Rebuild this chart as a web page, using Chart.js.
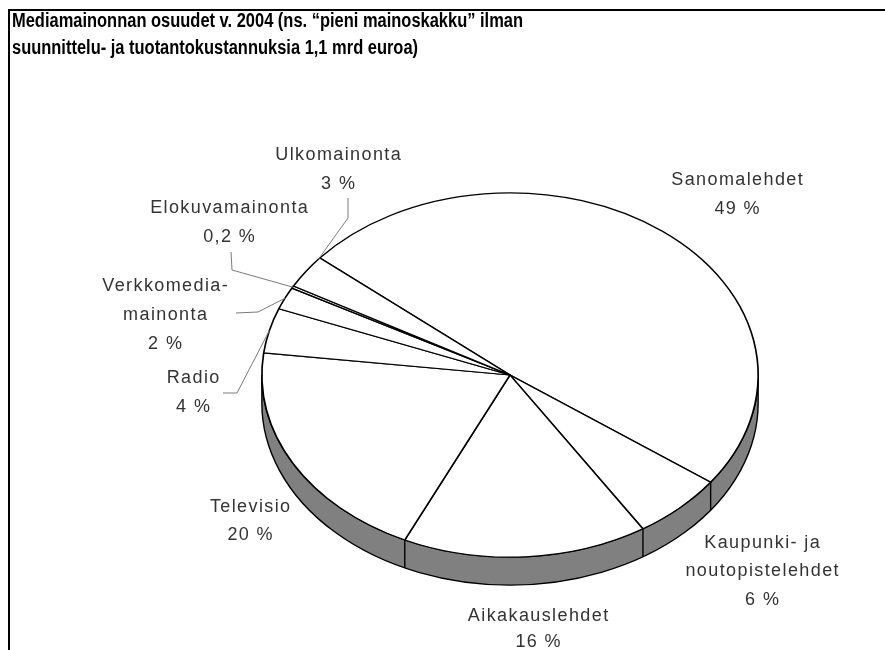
<!DOCTYPE html>
<html>
<head>
<meta charset="utf-8">
<script src="https://cdn.jsdelivr.net/npm/chart.js@4/dist/chart.umd.min.js"></script>
<style>
html,body{margin:0;padding:0;background:#fff}
canvas{display:block}
</style>
</head>
<body>
<canvas id="c" width="885" height="650"></canvas>
<script>
// ---- data ----
const titleLines = [
  'Mediamainonnan osuudet v. 2004 (ns. \u201Cpieni mainoskakku\u201D ilman',
  'suunnittelu- ja tuotantokustannuksia 1,1 mrd euroa)'
];
const categories = [
  ['Sanomalehdet'],
  ['Kaupunki- ja', 'noutopistelehdet'],
  ['Aikakauslehdet'],
  ['Televisio'],
  ['Radio'],
  ['Verkkomedia-', 'mainonta'],
  ['Elokuvamainonta'],
  ['Ulkomainonta']
];
const shares = [49, 6, 16, 20, 4, 2, 0.2, 3];

// ---- layout (annotation placement only) ----
const labelAnchors = [
  [737, 180], [762, 543], [538, 616], [250, 507],
  [193, 378], [165, 286], [229, 208], [338, 155]
];
const labelLineGap = [29, 28.5, 26, 28, 29, 29, 29, 29];
const leaders = [
  { idx: 7, f: 0.95, pts: [[348, 198], [348, 218]] },
  { idx: 6, f: 0.5, pts: [[231, 252], [232, 270]] },
  { idx: 5, f: 0.5, pts: [[236, 313], [258, 312]] },
  { idx: 4, f: 0.5, pts: [[223, 393], [237, 393]] }
];
const TILT = 0.734;   // vertical squash of the pie
const DEPTH = 28;     // thickness of the 3D side
const TITLE_CONDENSE = 0.823;

const pctText = v => String(v).replace('.', ',') + ' %';

const pie3d = {
  id: 'pie3d',
  beforeDraw(chart) {
    const ctx = chart.ctx;
    ctx.save();
    ctx.fillStyle = '#fff';
    ctx.fillRect(0, 0, chart.width, chart.height);
    ctx.strokeStyle = '#000';
    ctx.lineWidth = 2;
    ctx.beginPath();
    ctx.moveTo(9, chart.height);
    ctx.lineTo(9, 10);
    ctx.lineTo(chart.width, 10);
    ctx.stroke();
    ctx.fillStyle = '#000';
    ctx.font = 'bold 20px "Liberation Sans", Arial, sans-serif';
    ctx.textAlign = 'left';
    ctx.textBaseline = 'alphabetic';
    ctx.translate(12, 0);
    ctx.scale(TITLE_CONDENSE, 1);
    titleLines.forEach((t, i) => ctx.fillText(t, 0, 27 + i * 27));
    ctx.restore();
  },
  beforeDatasetsDraw(chart) {
    const ctx = chart.ctx;
    const arcs = chart.getDatasetMeta(0).data;
    const a0 = arcs[0];
    const cx = a0.x, cy = a0.y, R = a0.outerRadius, ry = R * TILT;
    ctx.save();
    ctx.beginPath();
    ctx.ellipse(cx, cy, R, ry, 0, 0, Math.PI, false);
    ctx.lineTo(cx - R, cy + DEPTH);
    ctx.ellipse(cx, cy + DEPTH, R, ry, 0, Math.PI, 0, true);
    ctx.closePath();
    ctx.fillStyle = '#808080';
    ctx.fill();
    ctx.strokeStyle = '#000';
    ctx.lineWidth = 1.4;
    ctx.stroke();
    arcs.forEach(a => {
      const t = ((a.startAngle % (2 * Math.PI)) + 2 * Math.PI) % (2 * Math.PI);
      if (t > 0.03 && t < Math.PI - 0.03) {
        const px = cx + R * Math.cos(t), py = cy + ry * Math.sin(t);
        ctx.beginPath();
        ctx.moveTo(px, py);
        ctx.lineTo(px, py + DEPTH);
        ctx.stroke();
      }
    });
    ctx.restore();
    ctx.save();
    ctx.translate(cx, cy);
    ctx.scale(1, TILT);
    ctx.translate(-cx, -cy);
  },
  afterDatasetsDraw(chart) {
    const ctx = chart.ctx;
    ctx.restore();
    const arcs = chart.getDatasetMeta(0).data;
    const a0 = arcs[0];
    const cx = a0.x, cy = a0.y, R = a0.outerRadius, ry = R * TILT;
    ctx.save();
    // leader lines
    ctx.strokeStyle = '#7a7a7a';
    ctx.lineWidth = 1;
    leaders.forEach(l => {
      const a = arcs[l.idx];
      const t = a.startAngle + l.f * (a.endAngle - a.startAngle);
      ctx.beginPath();
      ctx.moveTo(l.pts[0][0], l.pts[0][1]);
      for (let i = 1; i < l.pts.length; i++) ctx.lineTo(l.pts[i][0], l.pts[i][1]);
      ctx.lineTo(cx + R * Math.cos(t), cy + ry * Math.sin(t));
      ctx.stroke();
    });
    // labels
    ctx.fillStyle = '#333333';
    ctx.font = '18px "Liberation Sans", Arial, sans-serif';
    ctx.letterSpacing = '1.4px';
    ctx.textAlign = 'center';
    ctx.textBaseline = 'middle';
    const labels = chart.data.labels;
    const vals = chart.data.datasets[0].data;
    labels.forEach((lines, i) => {
      const all = lines.concat([pctText(vals[i])]);
      const [x, y] = labelAnchors[i];
      all.forEach((s, j) => ctx.fillText(s, x + 0.7, y + j * labelLineGap[i]));
    });
    ctx.restore();
  }
};

new Chart(document.getElementById('c'), {
  type: 'pie',
  data: {
    labels: categories,
    datasets: [{
      data: shares,
      backgroundColor: '#ffffff',
      borderColor: '#000000',
      borderWidth: 1.7,
      borderJoinStyle: 'round',
      hoverOffset: 0,
      offset: 0
    }]
  },
  options: {
    responsive: false,
    animation: false,
    rotation: -50,
    layout: { padding: { left: 261, right: 126, top: 126, bottom: 26 } },
    plugins: {
      legend: { display: false },
      title: { display: false },
      tooltip: { enabled: false }
    },
    events: []
  },
  plugins: [pie3d]
});
</script>
</body>
</html>
